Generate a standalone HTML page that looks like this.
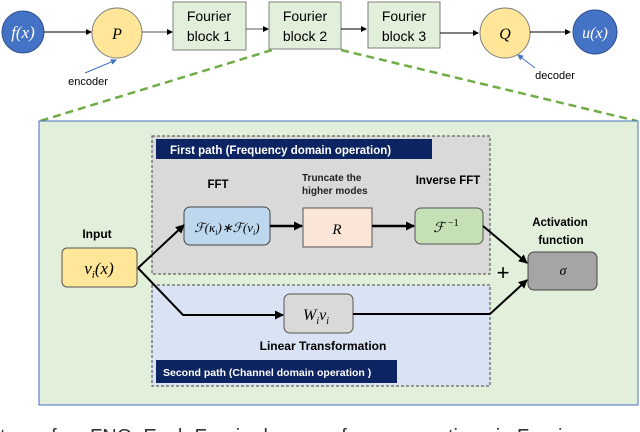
<!DOCTYPE html>
<html><head><style>
html,body{margin:0;padding:0;background:#fff;overflow:hidden}
svg{display:block}
text{font-family:"Liberation Sans",sans-serif}
.m{font-family:"Liberation Serif",serif;font-style:italic}
</style></head><body>
<svg width="640" height="432" viewBox="0 0 640 432" xmlns="http://www.w3.org/2000/svg">
<defs>
<marker id="a" markerWidth="6" markerHeight="6" refX="5" refY="3" orient="auto" markerUnits="userSpaceOnUse"><path d="M0,0 L6,3 L0,6z" fill="#000"/></marker>
<marker id="b" markerWidth="9" markerHeight="9" refX="8" refY="4.5" orient="auto" markerUnits="userSpaceOnUse"><path d="M0,0 L9,4.5 L0,9z" fill="#000"/></marker>
<marker id="c" markerWidth="6" markerHeight="6" refX="5" refY="3" orient="auto" markerUnits="userSpaceOnUse"><path d="M0,0 L6,3 L0,6z" fill="#4472c4"/></marker>
</defs>
<!-- top row -->
<circle cx="23" cy="32" r="21" fill="#4472c4" stroke="#2f528f"/>
<text x="23" y="38" text-anchor="middle" class="m" font-size="17" fill="#fff">f(x)</text>
<line x1="44" y1="32" x2="91" y2="32" stroke="#000" stroke-width="1" marker-end="url(#a)"/>
<circle cx="117" cy="33" r="25" fill="#ffe699" stroke="#7f7f7f"/>
<text x="117" y="39" text-anchor="middle" class="m" font-size="16">P</text>
<line x1="142" y1="32" x2="172" y2="32" stroke="#555" marker-end="url(#a)"/>
<rect x="173" y="2" width="73" height="48" fill="#e2efda" stroke="#7f7f7f"/>
<text x="209" y="21" text-anchor="middle" font-size="14">Fourier</text>
<text x="209" y="41" text-anchor="middle" font-size="14">block 1</text>
<line x1="246" y1="29" x2="268" y2="29" stroke="#555" marker-end="url(#a)"/>
<rect x="269" y="2" width="72" height="47" fill="#e2efda" stroke="#7f7f7f"/>
<text x="305" y="21" text-anchor="middle" font-size="14">Fourier</text>
<text x="305" y="41" text-anchor="middle" font-size="14">block 2</text>
<line x1="341" y1="29" x2="366" y2="29" stroke="#000" marker-end="url(#a)"/>
<rect x="368" y="2" width="72" height="46" fill="#e2efda" stroke="#7f7f7f"/>
<text x="404" y="21" text-anchor="middle" font-size="14">Fourier</text>
<text x="404" y="41" text-anchor="middle" font-size="14">block 3</text>
<line x1="440" y1="33" x2="478" y2="33" stroke="#000" marker-end="url(#a)"/>
<circle cx="505" cy="33" r="25" fill="#ffe699" stroke="#7f7f7f"/>
<text x="505" y="39" text-anchor="middle" class="m" font-size="16">Q</text>
<line x1="530" y1="32" x2="570" y2="32" stroke="#000" marker-end="url(#a)"/>
<circle cx="595" cy="32" r="22" fill="#4472c4" stroke="#2f528f"/>
<text x="595" y="38" text-anchor="middle" class="m" font-size="16" fill="#fff">u(x)</text>
<line x1="85" y1="73" x2="116" y2="60" stroke="#4472c4" marker-end="url(#c)"/>
<text x="88" y="85" text-anchor="middle" font-size="11">encoder</text>
<line x1="535" y1="68" x2="518" y2="55" stroke="#4472c4" marker-end="url(#c)"/>
<text x="555" y="79" text-anchor="middle" font-size="11">decoder</text>
<line x1="272" y1="50" x2="40" y2="121" stroke="#70ad47" stroke-width="2.5" stroke-dasharray="8,5"/>
<line x1="341" y1="50" x2="637" y2="121" stroke="#70ad47" stroke-width="2.5" stroke-dasharray="8,5"/>
<!-- panel -->
<rect x="39" y="121" width="599" height="284" fill="#e2efda" stroke="#4472c4" stroke-width="1"/>
<rect x="152" y="136" width="338" height="138" fill="#d9d9d9" stroke="#444" stroke-dasharray="3,2"/>
<rect x="152" y="285" width="338" height="101" fill="#dae3f3" stroke="#444" stroke-dasharray="3,2"/>
<rect x="156" y="139" width="276" height="20" fill="#0c2461"/>
<text x="170" y="154" font-size="11.5" font-weight="bold" fill="#fff">First path (Frequency domain operation)</text>
<rect x="156" y="360" width="241" height="23" fill="#0c2461"/>
<text x="163" y="376" font-size="10.5" font-weight="bold" fill="#fff">Second path (Channel domain operation )</text>
<text x="218" y="188" text-anchor="middle" font-size="11.5" font-weight="bold">FFT</text>
<text x="302" y="181" font-size="10" font-weight="bold" fill="#222">Truncate the</text>
<text x="302" y="194" font-size="10" font-weight="bold" fill="#222">higher modes</text>
<text x="448" y="184" text-anchor="middle" font-size="11.5" font-weight="bold">Inverse FFT</text>
<text x="97" y="238" text-anchor="middle" font-size="12" font-weight="bold">Input</text>
<rect x="62" y="248" width="75" height="39" rx="5" fill="#ffe699" stroke="#555"/>
<text x="99" y="274" text-anchor="middle" class="m" font-size="17">v<tspan font-size="11" dy="4">i</tspan><tspan dy="-4">(x)</tspan></text>
<rect x="184" y="207" width="86" height="38" rx="6" fill="#bdd7ee" stroke="#444"/>
<text x="227" y="232" text-anchor="middle" class="m" font-size="13">ℱ(κ<tspan font-size="8" dy="3">i</tspan><tspan dy="-3">)∗ℱ(v</tspan><tspan font-size="8" dy="3">i</tspan><tspan dy="-3">)</tspan></text>
<rect x="303" y="208" width="69" height="39" fill="#fbe5d6" stroke="#555"/>
<text x="337" y="234" text-anchor="middle" class="m" font-size="15">R</text>
<rect x="415" y="208" width="68" height="36" rx="6" fill="#c5e0b4" stroke="#555"/>
<text x="446" y="232" text-anchor="middle" class="m" font-size="14">ℱ <tspan font-size="10" dy="-6" font-style="normal">−1</tspan></text>
<text x="560" y="226" text-anchor="middle" font-size="11.5" font-weight="bold">Activation</text>
<text x="561" y="244" text-anchor="middle" font-size="11.5" font-weight="bold">function</text>
<rect x="528" y="252" width="69" height="38" rx="6" fill="#a5a5a5" stroke="#444"/>
<text x="563" y="275" text-anchor="middle" class="m" font-size="14">σ</text>
<rect x="284" y="294" width="69" height="39" rx="6" fill="#d9d9d9" stroke="#555"/>
<text x="316" y="320" text-anchor="middle" class="m" font-size="16">W<tspan font-size="10" dy="4">i</tspan><tspan dy="-4">v</tspan><tspan font-size="10" dy="4">i</tspan></text>
<text x="323" y="350" text-anchor="middle" font-size="12" font-weight="bold">Linear Transformation</text>
<text x="503" y="280" text-anchor="middle" font-size="22">+</text>
<!-- connectors -->
<path d="M138,268 L184,225" fill="none" stroke="#000" stroke-width="2" marker-end="url(#b)"/>
<path d="M138,268 L183,315 L283,315" fill="none" stroke="#000" stroke-width="2" marker-end="url(#b)"/>
<line x1="270" y1="226" x2="302" y2="226" stroke="#000" stroke-width="2.5" marker-end="url(#b)"/>
<line x1="372" y1="226" x2="414" y2="226" stroke="#000" stroke-width="2.5" marker-end="url(#b)"/>
<path d="M483,226 L527,263" fill="none" stroke="#000" stroke-width="2" marker-end="url(#b)"/>
<path d="M353,314 L490,314 L527,280" fill="none" stroke="#000" stroke-width="2" marker-end="url(#b)"/>
<text x="0" y="443" font-family="Liberation Serif,serif" font-size="20" fill="#333">ture of an FNO. Each Fourier layer performs operations in Fourier space and returns result</text>
</svg>
</body></html>
